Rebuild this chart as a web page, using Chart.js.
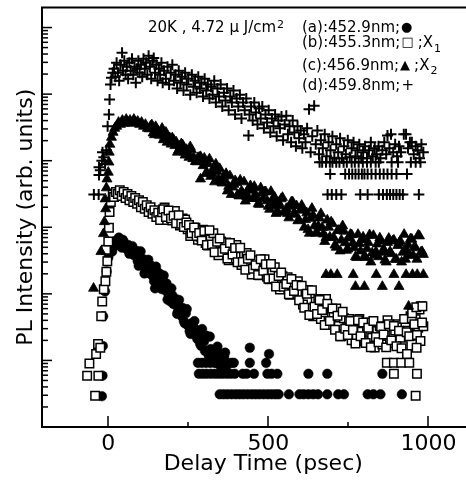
<!DOCTYPE html>
<html><head><meta charset="utf-8">
<script src="https://cdn.jsdelivr.net/npm/chart.js@4.4.0/dist/chart.umd.min.js"></script>
<style>
html,body{margin:0;padding:0;overflow:hidden;background:#fff;}
#wrap{position:relative;width:492px;height:491px;}
</style></head><body>
<div id="wrap"><canvas id="c"></canvas></div>
<script>
const xTickValues = [0, 500, 1000];
const xMinorTicks = [250, 750];
const yDecades = [1, 10, 100, 1000, 1e4, 1e5, 1e6];
const yMinorMultipliers = [2, 3, 4, 5, 6, 7, 8, 9];
const xRange = [-207, 1175];
const yRange = [1, 2e6];
const xTitle = 'Delay Time (psec)';
const yTitle = 'PL Intensity (arb. units)';
const conditionText = '20K , 4.72 \u03bc J/cm';
const conditionSup = '2';
const legendRows = ['(a):452.9nm;', '(b):455.3nm;', '(c):456.9nm;', '(d):459.8nm;'];
const legendSymbols = ['\u25cf', '\u25a1', '\u25b2', '+'];
const legendSuffix = ['', ';X', ';X', ''];
const legendSub = ['', '1', '2', ''];

// (a) 452.9 nm, filled circles: [delay psec, intensity]
const seriesA = [
[-20,2.9],[-18,5.9],[-17,16.5],[-16,46],[-10,109],[-5,217],[0,350],[5,430],
[12,430],[18,550],[24,610],[30,650],[36,570],[42,495],[48,610],[54,530],[60,460],[66,400],[72,495],[78,430],
[15,500],[21,620],[27,560],[33,700],[39,520],[45,650],[51,560],[57,480],[63,540],[69,430],[75,520],[81,380],
[85,400],[92,310],[98,360],[104,285],[110,330],[116,250],[122,285],[128,215],[134,265],[140,183],[146,121],[152,215],[158,165],[164,134],[170,176],[176,117],[182,143],[188,100],[194,77],[200,95],[206,70],[212,83],[218,55],[224,63],[230,46],[236,39],[242,51],[248,34],[254,27.6],[260,36],[266,25],[272,29.5],[278,21],[284,25.7],[290,16.5],[296,19.5],[302,13.9],[308,23],[314,11.7],[320,14.8],[326,10.5],[332,12.1],[338,9.2],[344,12.9],[350,8.3],[356,9.8],[362,11.3],[368,8.3],
[89,440],[95,264],[101,434],[107,266],[113,202],[119,290],[125,325],[131,200],[137,222],[143,155],[149,256],[155,166],[161,200],[167,118],[173,189],[179,112],[185,82],[191,113],[197,121],[203,71],[209,75],[215,50],[221,81],[227,51],[233,61],[239,36],[245,59],[251,34],[257,25],[263,35],[269,39],[275,23.5],[281,25.3],[287,17.7],[293,29.6],[299,19.3],[305,23.6],[311,14],[317,22.8],[323,13.6],[329,10.1],[335,14.5],[341,16.1],[347,9.9],[353,10.9],[359,7.7],[365,13.1],[371,8.6],
[280,9.2],[292,9.2],[305,9.2],[318,9.2],[331,9.2],[345,9.2],[358,9.2],[372,9.2],[385,9.2],[392,9.2],
[442,15.5],[502,12.5],[442,9.2],[493,9.2],
[283,6.3],[295,6.3],[307,6.3],[320,6.3],[333,6.3],[345,6.3],[357,6.3],[370,6.3],[382,6.3],[395,6.3],[420,6.3],[432,6.3],[455,6.3],[497,6.3],[510,6.3],[528,6.3],[625,6.3],[684,6.3],[856,6.3],
[348,3.1],[360,3.1],[372,3.1],[385,3.1],[398,3.1],[410,3.1],[422,3.1],[435,3.1],[448,3.1],[460,3.1],[472,3.1],[485,3.1],[498,3.1],[510,3.1],[522,3.1],[532,3.1],[564,3.1],[597,3.1],[610,3.1],[625,3.1],[640,3.1],[655,3.1],[684,3.1],[718,3.1],[736,3.1],[810,3.1],[828,3.1],[850,3.1],[917,3.1]
];

// (b) 455.3 nm, open squares
const seriesB = [
[-66,5.9],[-59,9.0],[-31,5.9],[-41,2.95],[-38,12.5],[-32,17.6],[-25,15.5],[-22,46],[-19,77],[-14,117],[-9,154],[-6,215],[-3,310],[-7,460],[0,610],[2,980],[4,1700],[8,2400],[14,3100],
[18,2850],[24,3400],[30,3150],[36,3600],[42,2950],[48,3400],[54,2750],[60,3150],[66,2550],[72,2950],[78,2400],[84,2750],[90,2250],[96,2550],[102,2000],[108,2400],[114,1900],[120,2150],[126,1700],[132,2000],[138,1600],[144,1800],[150,1430],[156,1650],[162,1290],
[168,1680],[176,1980],[184,1290],[192,1630],[200,1260],[208,1760],[216,1330],[224,1060],[232,1350],[240,1310],[248,930],[256,740],[264,940],[272,980],[280,650],[288,720],[296,920],
[304,580],[312,530],[320,720],[328,810],[336,510],[344,380],[352,610],[360,460],[368,590],[376,320],[384,470],[392,340],[400,540],[408,360],[416,270],[424,390],[432,410],[440,260],[448,196],[456,290],[464,320],[472,190],[480,230],[488,330],[496,181],[504,166],[512,220],[520,250],[528,156],[536,116],[544,184],[552,137],[560,177],[568,97],[576,139],[584,100],[592,155],
[600,101],[608,69],[616,108],[624,114],[632,61],[640,46],[648,76],[656,84],[664,42],[672,53],[680,84],[688,38],[696,34],[704,50],[712,60],[720,33],[728,23],[736,43],[744,30],[752,42],[760,20],[768,32],[776,22],[784,42],[792,27],[800,19.4],[808,33],[816,37],[824,22],[832,15.6],[840,27.6],[848,32.6],[856,17.3],[864,23.4],[872,40],[880,19.2],[888,18.2],[896,28.2],[904,35],[912,20.4],[920,16.3],[928,35],[936,27.9],[944,46],[952,23.5],[960,41.6],[968,31],[976,65],[984,32.6],
[172,1870],[180,1430],[188,1780],[196,1360],[204,1490],[212,1150],[220,1520],[228,1130],[236,1010],[244,1180],[252,1080],[260,810],[268,990],[276,740],[284,820],[292,630],[300,880],[308,540],[316,900],[324,550],[332,420],[340,605],[348,680],[356,425],[364,477],[372,340],[380,580],[388,390],[396,488],[404,298],[412,494],[420,302],[428,230],[436,337],[444,381],[452,238],[460,268],[468,192],[476,331],[484,223],[492,278],[500,169],[508,280],[516,170],[524,129],[532,186],[540,209],[548,128],[556,141],[564,99],[572,167],[580,110],[588,136],[596,80],[604,132],[612,62],[620,100],[628,48],[636,113],[644,64],[652,50],[660,81],[668,57],[676,34],[684,71],[692,39],[700,60],[708,29],[716,47],[724,23],[732,54],[740,30],[748,24],[756,39],[764,28.7],[772,18],[780,40],[788,23],[796,37],[804,18.2],[812,31],[820,15.8],[828,39],[836,22.5],[844,18.7],[852,32],[860,24.5],[868,15.7],[876,35],[884,20],[892,33],[900,16.3],[908,28],[916,15.2],[924,42],[932,26.5],[940,23],[948,43],[956,35],[964,24],[972,58],[980,37],
[949,51],[962,63],[981,65],[975,19.5],
[870,9.2],[892,9.2],[915,9.2],[940,9.2],[892,6.3],[964,6.3],[960,2.95],[933,12.5],[963,15.5]
];

// (c) 456.9 nm, filled triangles
const seriesC = [
[-46,121],[-23,430],[-15,800],[-12,1210],[-8,1890],[-10,2660],[-6,3900],[-4,5300],[0,6700],[2,9500],[3,13400],[5,17600],[10,22400],[15,26600],[20,30600],
[26,32800],[32,37600],[38,35000],[44,40300],[50,36300],[56,41700],[62,37600],[68,40300],[74,36300],[80,41700],[86,37600],[92,38900],[98,35000],[104,37600],[110,32800],[116,35000],[122,30600],
[128,30000],[136,34500],[144,24500],[152,29500],[160,24000],[168,30600],[176,23200],[184,18900],[192,22000],[200,22000],[208,16800],[216,13400],[224,16600],[232,17300],[240,12100],[248,13200],[256,16200],[264,10700],[272,9700],[280,11100],[288,11500],[288,5300],
[296,8400],[304,6400],[312,9000],[320,5800],[328,7700],[336,8900],[344,5300],[352,4800],[360,5800],[368,6400],[376,4100],[384,3100],[392,4400],[400,4700],[408,2950],[416,3500],[424,4800],[432,2900],[440,2700],[448,3600],[456,4100],[464,2700],[472,2200],[480,3300],[488,3400],[496,2500],[504,1860],[512,2600],[520,2800],[528,1760],[536,2100],[544,2800],[552,1700],[560,1600],[568,2060],[576,2400],[584,1560],[592,1250],
[600,1800],[608,1880],[616,1300],[624,920],[632,1360],[640,1500],[648,810],[656,1040],[664,1600],[672,790],[680,700],[688,1000],[696,1200],[704,700],[712,500],[720,900],[728,640],[736,870],[744,450],[752,690],[760,770],[768,490],[776,350],[784,570],[792,650],[800,370],[808,480],[816,770],[824,410],[832,380],[840,560],[848,690],[856,420],[864,320],[872,590],[880,430],[888,620],[896,330],[904,530],[912,620],[920,420],[928,330],[936,550],[944,670],[952,380],[960,490],[968,760],[976,420],[984,390],
[132,33000],[140,26000],[148,32500],[156,25000],[164,27200],[172,20600],[180,26700],[188,20000],[196,17700],[204,20600],[212,19100],[220,14500],[228,17900],[236,13500],[244,14700],[252,11200],[260,14500],[268,10900],[276,9600],[284,11200],[292,10300],[300,10900],[308,6600],[316,10600],[324,6400],[332,4800],[340,6900],[348,7600],[356,4600],[364,5050],[372,3500],[380,5900],[388,4000],[396,5000],[404,3100],[412,5100],[420,3200],[428,2470],[436,3650],[444,4200],[452,2700],[460,3080],[468,2240],[476,3900],[484,2700],[492,3400],[500,2060],[508,3450],[516,2100],[524,1610],[532,2350],[540,2670],[548,1680],[556,1910],[564,1380],[572,2400],[580,1630],[588,2100],[596,1280],[604,2130],[612,1000],[620,1640],[628,810],[636,1920],[644,1050],[652,830],[660,1370],[668,990],[676,610],[684,1280],[692,710],[700,1130],[708,540],[716,890],[724,440],[732,1050],[740,585],[748,470],[756,780],[764,580],[772,360],[780,780],[788,440],[796,710],[804,350],[812,590],[820,300],[828,750],[836,430],[844,360],[852,620],[860,470],[868,300],[876,680],[884,400],[892,640],[900,330],[908,580],[916,300],[924,780],[932,450],[940,380],[948,660],[956,510],[964,330],[972,740],[980,430],
[680,195],[695,195],[715,195],[765,195],[837,195],[892,195],[930,195],[950,195],[965,195],[984,195],
[772,129],[800,129],[856,129],[908,129],[938,65]
];

// (d) 459.8 nm, plus signs
const seriesD = [
[-45,3100],[-30,3100],[-29,6100],[-29,8000],[-25,7200],[-20,10000],[-18,13400],[-14,11300],[-10,8900],[-6,14300],[-2,32800],[2,49500],[4,83000],[7,139000],[10,176000],[14,209000],
[18,240000],[22,183000],[26,295000],[30,209000],[34,159000],[38,276000],[43,417000],[46,224000],[50,316000],[54,195000],[58,257000],[62,170000],[66,295000],[70,224000],[74,339000],[78,195000],[82,257000],[86,148000],[90,240000],[94,316000],[98,209000],[102,276000],[106,183000],[110,339000],[114,240000],[118,295000],[122,195000],[126,376000],[130,257000],[134,170000],[138,316000],[142,350000],[146,209000],[150,276000],[154,159000],[158,240000],[162,195000],[166,295000],[170,148000],[174,224000],
[180,170000],[185,257000],[190,139000],[195,209000],[200,276000],[205,159000],[210,195000],[215,121000],[220,224000],[225,148000],[230,183000],[235,113000],[240,209000],[245,139000],[250,170000],[256,98000],[261,195000],[266,129000],[271,159000],[276,105000],[281,183000],[286,121000],[291,148000],[296,92000],[301,170000],[306,113000],[311,139000],[316,86000],[321,129000],[326,98000],[331,159000],[336,75000],[341,121000],[346,92000],[351,139000],[356,65000],[361,105000],[366,80000],[371,121000],[376,57000],[381,92000],[386,75000],[391,113000],[396,49500],[401,86000],[406,65000],[411,98000],[416,43000],[421,75000],[426,57000],[431,86000],[438,24000],[441,49500],[446,65000],[451,40000],[456,75000],[461,53000],[466,35000],[471,61000],[476,43000],[481,65000],[486,30600],[491,49500],[496,37600],[501,57000],[506,26600],[511,43000],[516,32800],[521,49500],[526,23200],[531,40000],[536,30600],[541,46000],[546,20200],[551,35000],[556,47500],[561,24900],[566,32800],[571,18900],[576,40000],[581,26600],[586,16500],[591,32800],[596,21700],[601,28500],[606,15400],[611,24900],[616,18900],[621,30600],[627,59000],[632,13400],[637,23200],[643,67000],[648,17600],[653,28500],[658,12500],[664,20200],[670,15400],[676,24900],[682,11700],[688,18900],[694,14300],[700,23200],[706,10900],[712,17600],[718,13400],[724,21700],[730,10900],[736,16500],[742,12500],[748,20200],[754,11300],[760,15400],[766,18900],[772,11700],[778,14300],[784,17600],[790,10900],[796,13400],[802,16500],[808,10900],[814,14300],[820,18900],[826,11700],[832,15400],[838,12500],[844,16500],[850,10900],[856,14300],[862,18900],[868,12500],[872,24000],[878,15400],[883,24900],[890,13400],[896,17600],[902,11700],[908,16500],[914,13400],[923,24900],[930,24900],[936,15400],[942,18900],[948,18900],[954,12500],[960,16500],[966,14300],[972,10900],[978,17600],[984,13400],
[660,9500],[668,9500],[680,9500],[692,9500],[700,9500],[712,9500],[722,9500],[735,9500],[745,9500],[760,9500],[770,9500],[782,9500],[795,9500],[808,9500],[820,9500],[835,9500],[845,9500],[885,9500],[905,9500],[945,9500],[960,9500],[975,9500],
[693,6300],[740,6300],[752,6300],[762,6300],[772,6300],[782,6300],[792,6300],[800,6300],[810,6300],[822,6300],[835,6300],[848,6300],[860,6300],[872,6300],[885,6300],[900,6300],[933,6300],
[685,3100],[698,3100],[712,3100],[728,3100],[787,3100],[810,3100],[845,3100],[858,3100],[870,3100],[880,3100],[890,3100],[900,3100],[910,3100],[920,3100],[970,3100]
];

const toXY = arr => arr.map(p => ({x: p[0], y: p[1]}));
const FONT = 'DejaVu Sans';

const decor = {
  id: 'decor',
  afterDraw(chart) {
    const {ctx, chartArea: a, scales: {x, y}} = chart;
    ctx.save();
    ctx.strokeStyle = '#000';
    ctx.fillStyle = '#000';
    ctx.lineWidth = 2;
    ctx.beginPath(); ctx.moveTo(a.left - 1, a.top); ctx.lineTo(a.right, a.top); ctx.stroke();
    ctx.lineWidth = 1.5;
    const seg = (x1, y1, x2, y2) => { ctx.beginPath(); ctx.moveTo(x1, y1); ctx.lineTo(x2, y2); ctx.stroke(); };
    xTickValues.forEach(v => { const p = Math.round(x.getPixelForValue(v)); seg(p, a.bottom, p, a.bottom - 11); });
    xMinorTicks.forEach(v => { const p = Math.round(x.getPixelForValue(v)); seg(p, a.bottom, p, a.bottom - 5); });
    yDecades.forEach(d => {
      if (d > y.min && d < y.max) { const p = y.getPixelForValue(d); seg(a.left, p, a.left + 10, p); }
      yMinorMultipliers.forEach(m => {
        const v = d * m;
        if (v > y.min && v < y.max) { const p = y.getPixelForValue(v); seg(a.left, p, a.left + 6, p); }
      });
    });
    ctx.textBaseline = 'alphabetic';
    ctx.textAlign = 'left';
    ctx.font = "15px '" + FONT + "'";
    ctx.fillText(conditionText, 148, 31.5);
    const cw = ctx.measureText(conditionText).width;
    ctx.font = "11px '" + FONT + "'";
    ctx.fillText(conditionSup, 148 + cw + 1, 28);
    const baselines = [31.5, 47, 69.5, 90];
    legendRows.forEach((t, i) => {
      const b = baselines[i];
      ctx.font = "15px '" + FONT + "'";
      ctx.fillText(t, 302, b);
      let xp = 302 + ctx.measureText(t).width + 1;
      const plus = legendSymbols[i] === '+';
      ctx.font = (plus ? "15px '" : "13px '") + FONT + "'";
      ctx.fillText(legendSymbols[i], xp, b - (plus ? 0 : 1));
      xp += ctx.measureText(legendSymbols[i]).width + 4;
      if (legendSuffix[i]) {
        ctx.font = "15px '" + FONT + "'";
        ctx.fillText(legendSuffix[i], xp, b);
        xp += ctx.measureText(legendSuffix[i]).width;
        ctx.font = "11px '" + FONT + "'";
        ctx.fillText(legendSub[i], xp + 1, b + 4.5);
      }
    });
    ctx.restore();
  }
};

new Chart(document.getElementById('c'), {
  type: 'scatter',
  data: {
    datasets: [
      {label: '(a)', data: toXY(seriesA), order: 4, pointStyle: 'circle', pointRadius: 4.8, backgroundColor: '#000', borderColor: '#000', borderWidth: 0.5},
      {label: '(b)', data: toXY(seriesB), order: 3, pointStyle: 'rect', pointRadius: 6, backgroundColor: '#fff', borderColor: '#000', borderWidth: 1.5},
      {label: '(c)', data: toXY(seriesC), order: 2, pointStyle: 'triangle', pointRadius: 5.8, backgroundColor: '#000', borderColor: '#000', borderWidth: 0.8},
      {label: '(d)', data: toXY(seriesD), order: 1, pointStyle: 'cross', pointRadius: 5.5, backgroundColor: '#000', borderColor: '#000', borderWidth: 2}
    ]
  },
  options: {
    responsive: true,
    maintainAspectRatio: false,
    animation: false,
    events: [],
    layout: {padding: {top: 4, left: 0, right: 0, bottom: 0}},
    plugins: {legend: {display: false}, tooltip: {enabled: false}},
    scales: {
      x: {
        type: 'linear', min: xRange[0], max: xRange[1],
        afterBuildTicks: s => { s.ticks = xTickValues.map(v => ({value: v})); },
        afterFit: s => { s.height = 64; },
        grid: {display: false, drawTicks: false},
        border: {display: true, color: '#000', width: 2},
        ticks: {color: '#000', padding: 4, font: {family: FONT, size: 22}, maxRotation: 0, autoSkip: false, callback: v => String(v)},
        title: {display: true, text: xTitle, color: '#000', font: {family: FONT, size: 22}, padding: {top: 0, bottom: 14}}
      },
      y: {
        type: 'logarithmic', min: yRange[0], max: yRange[1],
        afterFit: s => { s.width = 42; },
        grid: {display: false, drawTicks: false},
        border: {display: true, color: '#000', width: 2},
        ticks: {display: false},
        title: {display: true, text: yTitle, color: '#000', font: {family: FONT, size: 22}, padding: {top: 13, bottom: 0}}
      }
    }
  },
  plugins: [decor]
});
</script>
</body></html>
